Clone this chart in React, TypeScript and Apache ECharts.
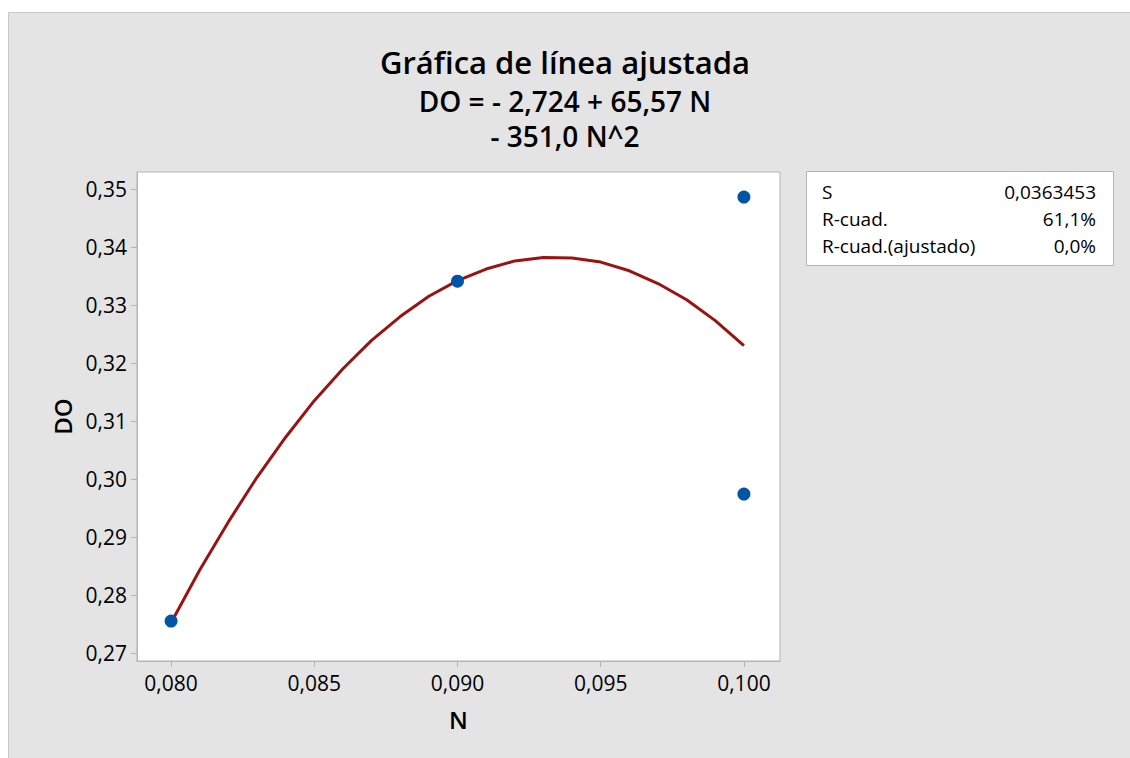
import React, { useEffect, useRef } from "react";
import * as echarts from "echarts";

const pointsN = [0.08, 0.09, 0.1, 0.1];
const pointsDO = [0.2755, 0.3341, 0.3486, 0.2974];

const fitN = [0.08, 0.081, 0.082, 0.083, 0.084, 0.085, 0.086, 0.087, 0.088, 0.089, 0.09, 0.091, 0.092, 0.093, 0.094, 0.095, 0.096, 0.097, 0.098, 0.099, 0.1];
const fitDO = [0.2752, 0.2843, 0.2926, 0.3003, 0.3072, 0.3135, 0.319, 0.3239, 0.328, 0.3315, 0.3342, 0.3362, 0.3376, 0.3382, 0.3381, 0.3374, 0.3359, 0.3337, 0.3309, 0.3273, 0.323];

const xTicks = [0.08, 0.085, 0.09, 0.095, 0.1];
const yTicks = [0.27, 0.28, 0.29, 0.3, 0.31, 0.32, 0.33, 0.34, 0.35];

const statLabels = ["S", "R-cuad.", "R-cuad.(ajustado)"];
const statValues = ["0,0363453", "61,1%", "0,0%"];

const FONT = "'Open Sans', 'Noto Sans', sans-serif";

export default function App() {
  const ref = useRef<HTMLDivElement>(null);
  useEffect(() => {
    if (!ref.current) return;
    const chart = echarts.init(ref.current, undefined, { renderer: "svg" });
    const statTexts: any[] = [];
    statLabels.forEach((l, i) => {
      statTexts.push({
        type: "text",
        left: 822,
        top: 182 + i * 27,
        style: { text: l, font: `19px ${FONT}`, fill: "#000" },
      });
      statTexts.push({
        type: "text",
        right: 1130 - 1096,
        top: 182 + i * 27,
        style: { text: statValues[i], font: `19px ${FONT}`, fill: "#000", align: "right" },
      });
    });
    chart.setOption({
      animation: false,
      backgroundColor: "#ffffff",
      textStyle: { fontFamily: FONT },
      graphic: [
        {
          type: "rect",
          z: -10,
          silent: true,
          shape: { x: 8.5, y: 12.5, width: 1130, height: 760 },
          style: { fill: "#e4e4e4", stroke: "#c8c8c8", lineWidth: 1 },
        },
        {
          type: "text",
          left: "center",
          top: 46,
          style: { text: "Gráfica de línea ajustada", font: `600 31px ${FONT}`, fill: "#000" },
        },
        {
          type: "text",
          left: "center",
          top: 87,
          style: { text: "DO = - 2,724 + 65,57 N", font: `600 28px ${FONT}`, fill: "#000" },
        },
        {
          type: "text",
          left: "center",
          top: 122,
          style: { text: "- 351,0 N^2", font: `600 28px ${FONT}`, fill: "#000" },
        },
        {
          type: "rect",
          shape: { x: 806.5, y: 171.5, width: 307, height: 94 },
          style: { fill: "#fff", stroke: "#b4b4b4", lineWidth: 1 },
        },
        ...statTexts,
      ],
      grid: {
        left: 137,
        top: 172,
        right: 350,
        bottom: 97,
        show: true,
        backgroundColor: "#ffffff",
        borderColor: "#b4b4b4",
        borderWidth: 1,
      },
      xAxis: {
        type: "value",
        min: 0.07881,
        max: 0.10126,
        name: "N",
        nameLocation: "middle",
        nameGap: 46,
        nameTextStyle: { fontSize: 24, fontWeight: 600, color: "#000", fontFamily: FONT },
        axisLine: { show: true, lineStyle: { color: "#b4b4b4" } },
        axisTick: { show: true, length: 6, lineStyle: { color: "#b4b4b4" }, customValues: xTicks },
        splitLine: { show: false },
        axisLabel: {
          customValues: xTicks,
          fontSize: 21,
          color: "#000",
          margin: 11,
          fontFamily: FONT,
          formatter: (v: number) => v.toFixed(3).replace(".", ","),
        },
      },
      yAxis: {
        type: "value",
        min: 0.26862,
        max: 0.35293,
        name: "DO",
        nameLocation: "middle",
        nameGap: 60,
        nameRotate: 90,
        nameTextStyle: { fontSize: 24, fontWeight: 600, color: "#000", fontFamily: FONT },
        axisLine: { show: true, lineStyle: { color: "#b4b4b4" } },
        axisTick: { show: true, length: 6, lineStyle: { color: "#b4b4b4" }, customValues: yTicks },
        splitLine: { show: false },
        axisLabel: {
          customValues: yTicks,
          fontSize: 21,
          color: "#000",
          margin: 10,
          fontFamily: FONT,
          formatter: (v: number) => v.toFixed(2).replace(".", ","),
        },
      },
      series: [
        {
          type: "line",
          data: fitN.map((n, i) => [n, fitDO[i]]),
          showSymbol: false,
          symbol: "none",
          lineStyle: { color: "#9a1313", width: 3 },
          z: 2,
        },
        {
          type: "scatter",
          data: pointsN.map((n, i) => [n, pointsDO[i]]),
          symbolSize: 13,
          itemStyle: { color: "#0055a6", opacity: 1 },
          z: 3,
        },
      ],
    });
    return () => chart.dispose();
  }, []);
  return (
    <div
      ref={ref}
      style={{ position: "absolute", left: 0, top: 0, width: 1130, height: 758 }}
    />
  );
}
